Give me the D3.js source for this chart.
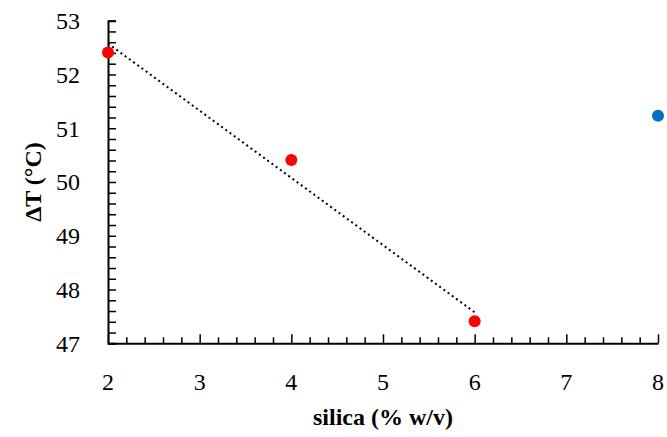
<!DOCTYPE html>
<html>
<head>
<meta charset="utf-8">
<script src="https://cdn.jsdelivr.net/npm/d3@7"></script>
<style>
  body { margin: 0; background: #fff; }
  text { font-family: 'Liberation Serif', 'Times New Roman', 'DejaVu Serif', serif; }
</style>
</head>
<body>
<div id="chart"></div>
<script>
// data
const silica = [2, 4, 6];
const deltaT = [52.41, 50.41, 47.41];
const blueX = [8];
const blueY = [51.23];
const xTicks = [2, 3, 4, 5, 6, 7, 8];
const yTicks = [47, 48, 49, 50, 51, 52, 53];

// set the dimensions and margins of the graph
const W = 667, H = 437;
const margin = {top: 20.7, right: 9, bottom: 93.7, left: 108};
const width = W - margin.left - margin.right,
      height = H - margin.top - margin.bottom;
const serif = "'Liberation Serif', 'Times New Roman', 'DejaVu Serif', serif";

const svg = d3.select("#chart")
  .append("svg")
    .attr("width", W)
    .attr("height", H)
  .append("g")
    .attr("transform", `translate(${margin.left}, ${margin.top})`);

const x = d3.scaleLinear().domain([2, 8]).range([0, width]);
const y = d3.scaleLinear().domain([47, 53]).range([height, 0]);

// minor ticks every 0.2, both axes, pointing inward
const xMinor = d3.range(2, 8.001, 0.2).map(v => +v.toFixed(1));
const yMinor = d3.range(47, 53.001, 0.2).map(v => +v.toFixed(1));

// Y axis
const yAxis = svg.append("g")
  .call(d3.axisLeft(y).tickValues(yMinor).tickSize(-8).tickFormat(""));
yAxis.select(".domain").attr("stroke-width", 2);
yAxis.selectAll(".tick line").attr("stroke-width", 1.5);

svg.append("g")
  .selectAll("text")
  .data(yTicks)
  .enter()
  .append("text")
    .attr("x", -28)
    .attr("y", d => y(d))
    .attr("dy", "0.35em")
    .attr("text-anchor", "end")
    .attr("font-family", serif)
    .style("font-size", "24px")
    .text(d => d);

// X axis
const xAxis = svg.append("g")
  .attr("transform", `translate(0, ${height})`)
  .call(d3.axisBottom(x).tickValues(xMinor)
    .tickSize(0).tickFormat(""));
xAxis.select(".domain").attr("stroke-width", 2);
xAxis.selectAll(".tick line")
  .attr("y2", d => Number.isInteger(d) ? -9 : -6)
  .attr("stroke-width", 1.5);

svg.append("g")
  .selectAll("text")
  .data(xTicks)
  .enter()
  .append("text")
    .attr("x", d => x(d))
    .attr("y", height + 47)
    .attr("text-anchor", "middle")
    .attr("font-family", serif)
    .style("font-size", "24px")
    .text(d => d);

// axis titles
svg.append("text")
  .attr("x", width / 2)
  .attr("y", height + 82)
  .attr("text-anchor", "middle")
  .attr("font-family", serif)
  .style("font-size", "24px")
  .style("font-weight", "bold")
  .text("silica (% w/v)");

svg.append("text")
  .attr("transform", `translate(${33 - margin.left}, ${height / 2}) rotate(-90)`)
  .attr("text-anchor", "middle")
  .attr("dy", "0.35em")
  .attr("font-family", serif)
  .style("font-size", "24px")
  .style("font-weight", "bold")
  .text("ΔT (°C)");

// linear trendline through the red points
const mx = d3.mean(silica), my = d3.mean(deltaT);
const slope = d3.sum(silica, (v, i) => (v - mx) * (deltaT[i] - my)) /
              d3.sum(silica, v => (v - mx) * (v - mx));
const icpt = my - slope * mx;
const xr = d3.extent(silica);

svg.append("line")
  .attr("x1", x(xr[0])).attr("y1", y(icpt + slope * xr[0]))
  .attr("x2", x(xr[1])).attr("y2", y(icpt + slope * xr[1]))
  .attr("stroke", "#000")
  .attr("stroke-width", 2)
  .attr("stroke-dasharray", "2,3.2");

// points
svg.selectAll("red-dot")
  .data(silica)
  .enter()
  .append("circle")
    .attr("cx", d => x(d))
    .attr("cy", (d, i) => y(deltaT[i]))
    .attr("r", 6)
    .attr("fill", "#ff0000");

svg.selectAll("blue-dot")
  .data(blueX)
  .enter()
  .append("circle")
    .attr("cx", d => x(d))
    .attr("cy", (d, i) => y(blueY[i]))
    .attr("r", 6)
    .attr("fill", "#0070c0");
</script>
</body>
</html>
